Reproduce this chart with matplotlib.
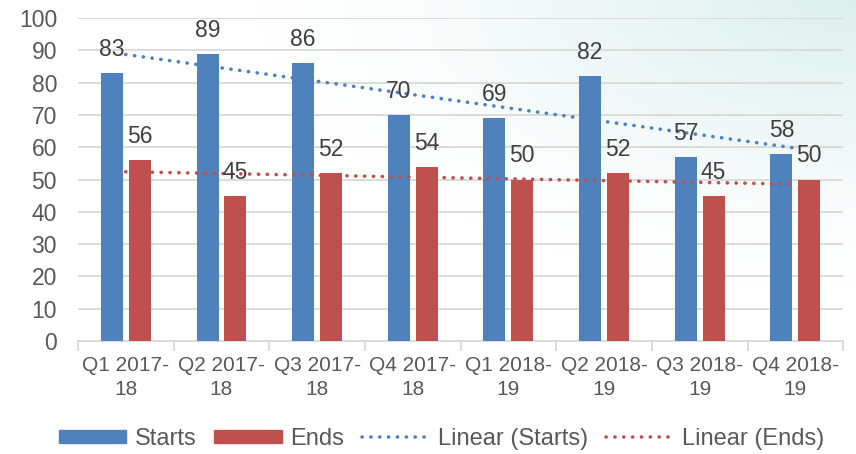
import numpy as np
import matplotlib
matplotlib.use("Agg")
import matplotlib.pyplot as plt
from matplotlib.lines import Line2D
from matplotlib.patches import Patch

categories = ["Q1 2017-\n18", "Q2 2017-\n18", "Q3 2017-\n18", "Q4 2017-\n18",
              "Q1 2018-\n19", "Q2 2018-\n19", "Q3 2018-\n19", "Q4 2018-\n19"]
starts = [83, 89, 86, 70, 69, 82, 57, 58]
ends = [56, 45, 52, 54, 50, 52, 45, 50]
yticks = [0, 10, 20, 30, 40, 50, 60, 70, 80, 90, 100]

blue = "#4f81bd"
red = "#c0504d"
txt = "#595959"

plt.rcParams['font.family'] = ['Liberation Sans', 'DejaVu Sans']

fig = plt.figure(figsize=(8.56, 4.54), dpi=100)

# background gradient (light teal at top-right fading to white)
bg = fig.add_axes([0, 0, 1, 1], zorder=-10)
h, w = 454, 856
yy, xx = np.mgrid[0:h, 0:w]
d = np.sqrt(((w - xx) / w) ** 2 + (yy / h) ** 2 * 1.2)
a = np.clip(1 - d / 0.7, 0, 1) ** 1.3
c0 = np.array([1.0, 1.0, 1.0])
c1 = np.array([0.86, 0.94, 0.93])
img = c0[None, None, :] * (1 - a[..., None]) + c1[None, None, :] * a[..., None]
bg.imshow(img, aspect='auto', extent=[0, 1, 0, 1])
bg.axis('off')

ax = fig.add_axes([0.091, 0.249, 0.894, 0.711])
ax.patch.set_alpha(0)

x = np.arange(len(categories))
bw = 0.23
off = 0.145
ax.bar(x - off, starts, bw, color=blue, zorder=3)
ax.bar(x + off, ends, bw, color=red, zorder=3)

for xi, v in zip(x, starts):
    ax.text(xi - off, v + 7.3, str(v), ha='center', va='center', fontsize=16.5, color="#404040", zorder=5)
for xi, v in zip(x, ends):
    ax.text(xi + off, v + 7.3, str(v), ha='center', va='center', fontsize=16.5, color="#404040", zorder=5)

# linear trendlines
t = np.arange(1, len(categories) + 1)
ps = np.polyfit(t, starts, 1)
pe = np.polyfit(t, ends, 1)
dot = (0, (0.05, 2.4))
ax.plot(x, np.polyval(ps, t), color=blue, linestyle=dot, dash_capstyle='round', linewidth=2.6, zorder=4)
ax.plot(x, np.polyval(pe, t), color=red, linestyle=dot, dash_capstyle='round', linewidth=2.6, zorder=4)

ax.set_xlim(-0.5, len(categories) - 0.5)
ax.set_ylim(0, 100)
ax.set_yticks(yticks)
ax.set_yticklabels([str(v) for v in yticks], fontsize=16.5, color=txt)
ax.yaxis.grid(True, color="#d9d9d9", linewidth=1.3, zorder=0)
ax.tick_params(axis='y', length=0, pad=15)

ax.set_xticks(x)
ax.set_xticklabels(categories, fontsize=15, color=txt, linespacing=1.3)
ax.tick_params(axis='x', length=0, pad=11)
ax.set_xticks(np.arange(-0.5, len(categories)), minor=True)
ax.tick_params(axis='x', which='minor', length=7, color="#d9d9d9", width=1.3)

for s in ['top', 'right', 'left']:
    ax.spines[s].set_visible(False)
ax.spines['bottom'].set_color("#d9d9d9")
ax.spines['bottom'].set_linewidth(1.3)

handles = [
    Patch(color=blue, label="Starts"),
    Patch(color=red, label="Ends"),
    Line2D([0], [0], color=blue, linestyle=dot, dash_capstyle='round', linewidth=2.6, label="Linear (Starts)"),
    Line2D([0], [0], color=red, linestyle=dot, dash_capstyle='round', linewidth=2.6, label="Linear (Ends)"),
]
leg = fig.legend(handles=handles, loc='center', bbox_to_anchor=(0.516, 0.033), ncol=4,
                 frameon=False, fontsize=17, handlelength=2.84, handleheight=0.5,
                 columnspacing=0.76, handletextpad=0.38, borderpad=0, borderaxespad=0)
for t_ in leg.get_texts():
    t_.set_color(txt)

fig.savefig("out.png", dpi=100)
